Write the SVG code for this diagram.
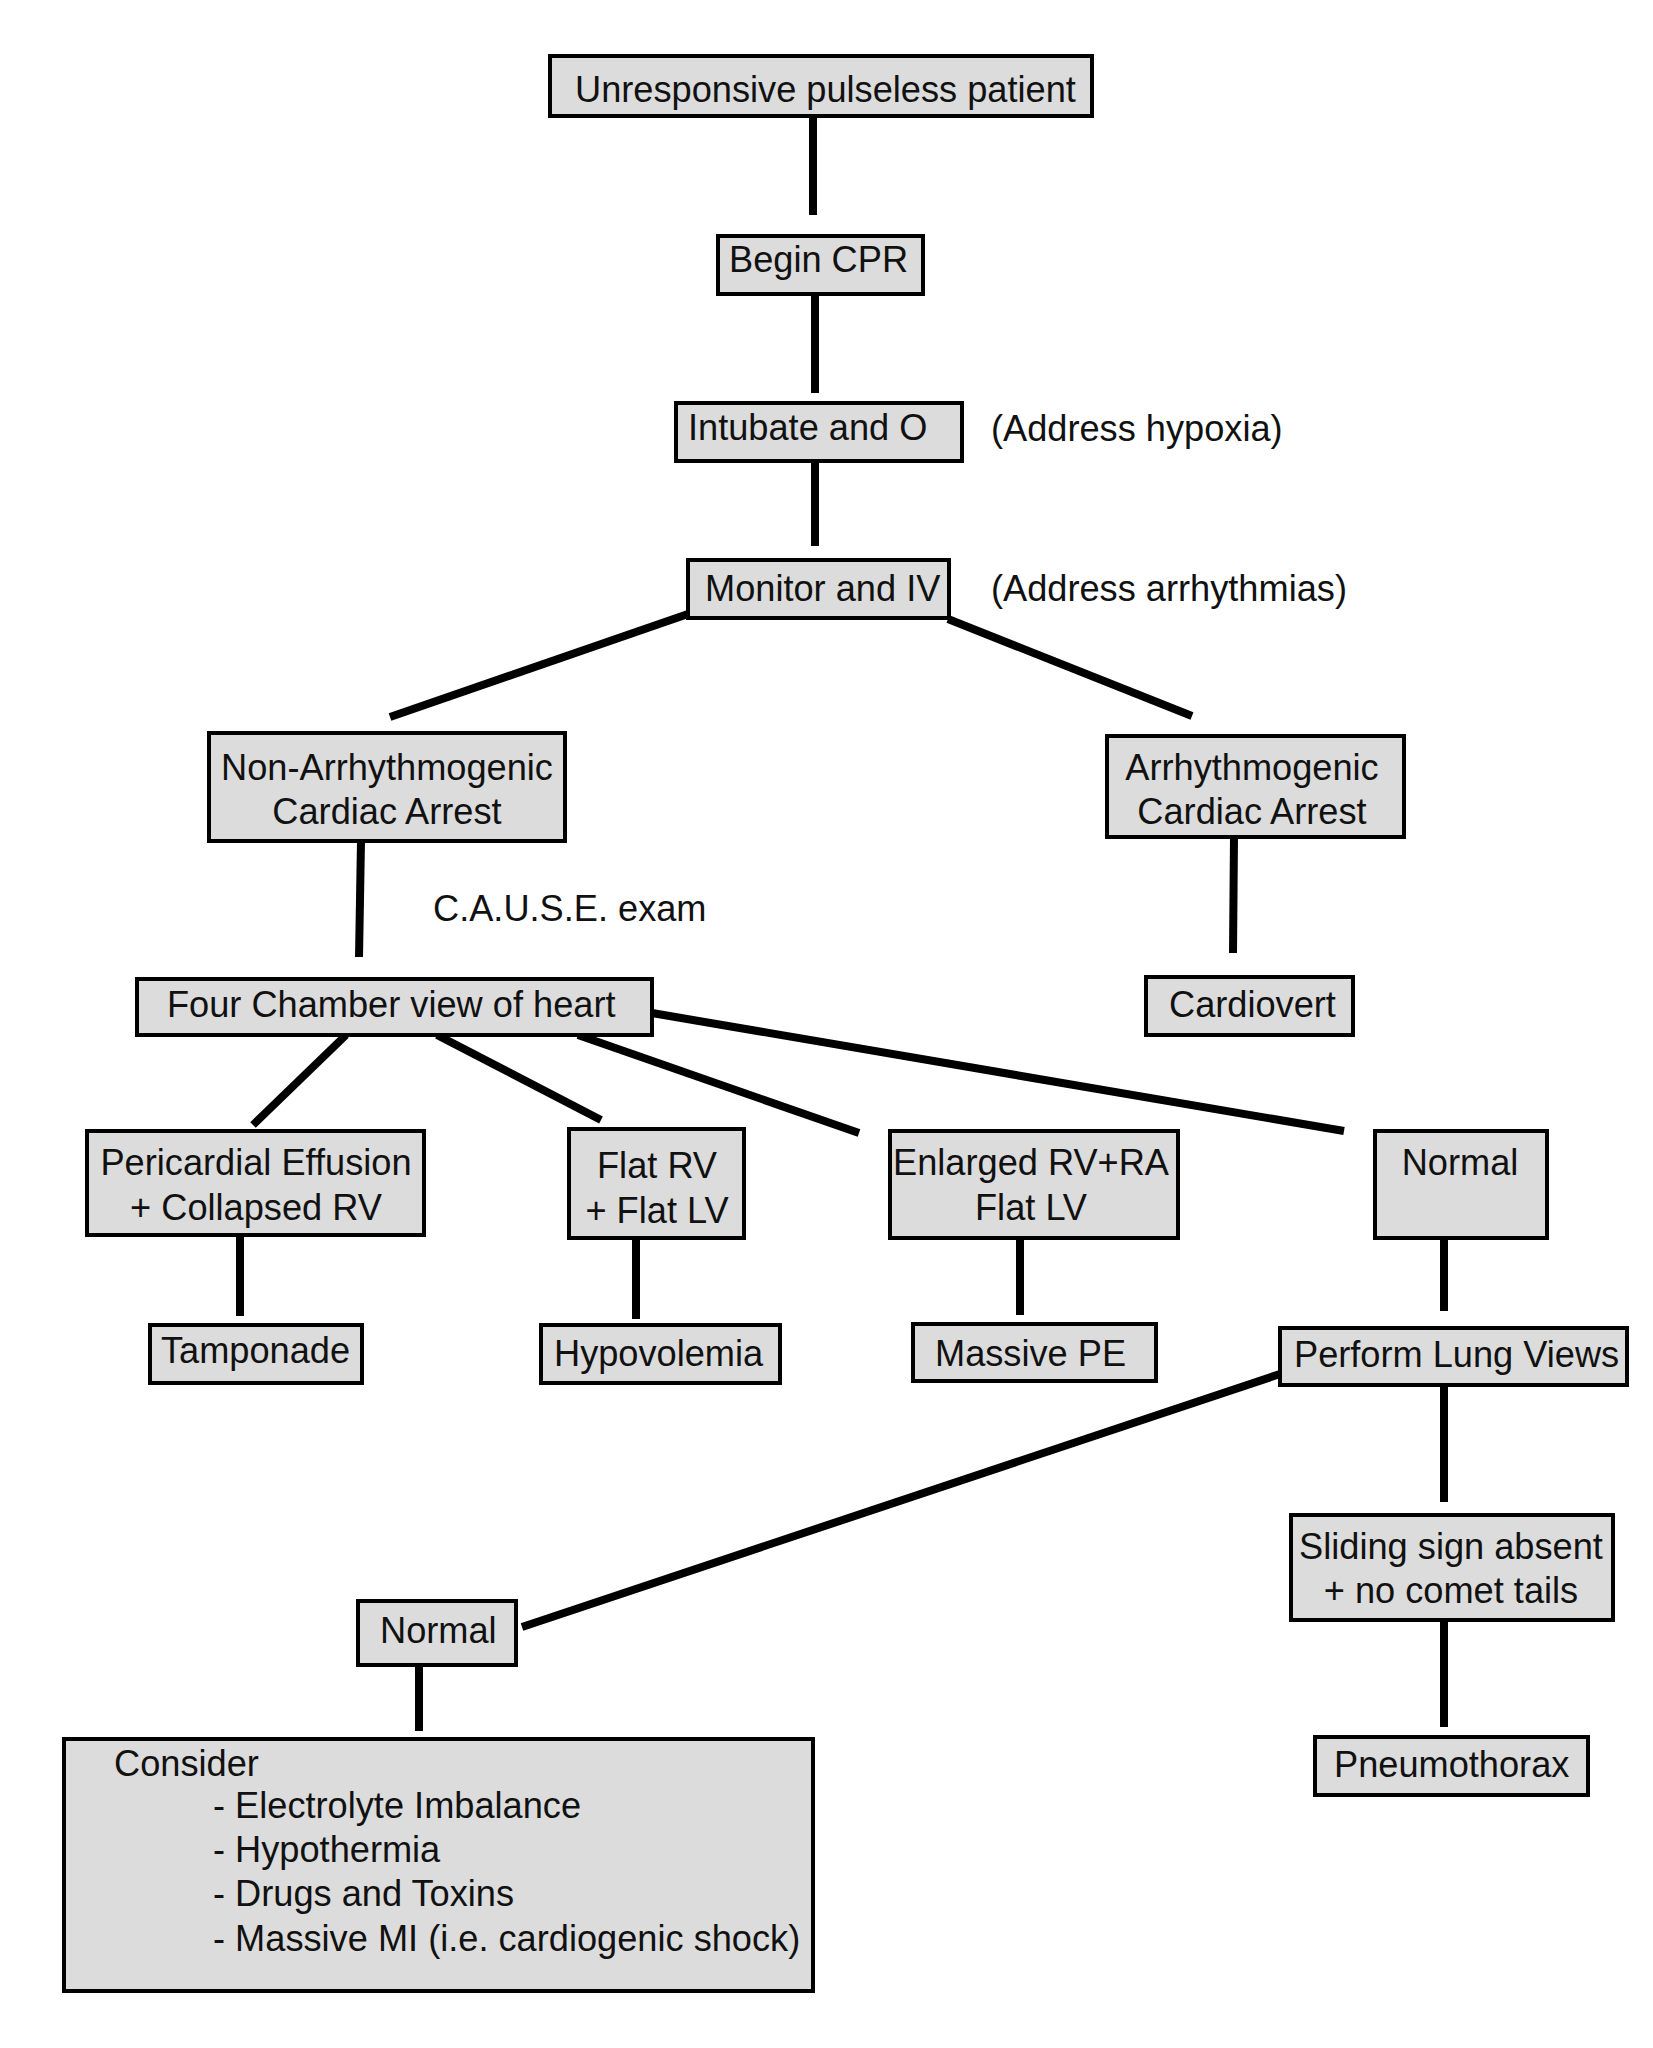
<svg xmlns="http://www.w3.org/2000/svg" width="1653" height="2048" viewBox="0 0 1653 2048">
<style>
.box{fill:#dcdcdc;stroke:#000;stroke-width:4}
.t{font-family:"Liberation Sans",Arial,sans-serif;font-size:36.2px;fill:#111}
.m{text-anchor:middle}
.c line{stroke:#000;stroke-width:8}
</style>
<rect width="1653" height="2048" fill="#fff"/>
<g class="c" id="connectors">
<line x1="813" y1="116" x2="813" y2="215"/>
<line x1="815" y1="294" x2="815" y2="393"/>
<line x1="815" y1="461" x2="815" y2="546"/>
<line x1="688" y1="614" x2="390" y2="717"/>
<line x1="948" y1="619" x2="1192" y2="716"/>
<line x1="361" y1="841" x2="359" y2="957"/>
<line x1="1234" y1="837" x2="1233" y2="953"/>
<line x1="346" y1="1035" x2="253" y2="1125"/>
<line x1="437" y1="1035" x2="601" y2="1120"/>
<line x1="578" y1="1035" x2="859" y2="1133"/>
<line x1="652" y1="1013" x2="1344" y2="1131"/>
<line x1="240" y1="1235" x2="240" y2="1316"/>
<line x1="636" y1="1238" x2="636" y2="1319"/>
<line x1="1020" y1="1238" x2="1020" y2="1315"/>
<line x1="1444" y1="1238" x2="1444" y2="1311"/>
<line x1="1280" y1="1374" x2="522" y2="1627"/>
<line x1="1444" y1="1385" x2="1444" y2="1502"/>
<line x1="1444" y1="1620" x2="1444" y2="1727"/>
<line x1="419" y1="1665" x2="419" y2="1731"/>
</g>
<g id="n1"><rect class="box" x="550" y="56" width="542" height="60"/><text class="t" x="575" y="102">Unresponsive pulseless patient</text></g>
<g id="n2"><rect class="box" x="718" y="236" width="205" height="58"/><text class="t" x="729" y="272">Begin CPR</text></g>
<g id="n3"><rect class="box" x="676" y="403" width="286" height="58"/><text class="t" x="688" y="440">Intubate and O</text></g>
<g id="l1"><text class="t" x="991" y="441">(Address hypoxia)</text></g>
<g id="n4"><rect class="box" x="688" y="560" width="261" height="58"/><text class="t" x="705" y="601">Monitor and IV</text></g>
<g id="l2"><text class="t" x="991" y="601">(Address arrhythmias)</text></g>
<g id="n5"><rect class="box" x="209" y="733" width="356" height="108"/><text class="t m" x="387" y="780">Non-Arrhythmogenic</text><text class="t m" x="387" y="824">Cardiac Arrest</text></g>
<g id="n6"><rect class="box" x="1107" y="736" width="297" height="101"/><text class="t m" x="1252" y="780">Arrhythmogenic</text><text class="t m" x="1252" y="824">Cardiac Arrest</text></g>
<g id="l3"><text class="t" x="433" y="921">C.A.U.S.E. exam</text></g>
<g id="n7"><rect class="box" x="137" y="979" width="515" height="56"/><text class="t" x="167" y="1017">Four Chamber view of heart</text></g>
<g id="n8"><rect class="box" x="1146" y="977" width="207" height="58"/><text class="t" x="1169" y="1017">Cardiovert</text></g>
<g id="n9"><rect class="box" x="87" y="1131" width="337" height="104"/><text class="t m" x="256" y="1175">Pericardial Effusion</text><text class="t m" x="256" y="1220">+ Collapsed RV</text></g>
<g id="n10"><rect class="box" x="569" y="1129" width="175" height="109"/><text class="t m" x="657" y="1178">Flat RV</text><text class="t m" x="657" y="1223">+ Flat LV</text></g>
<g id="n11"><rect class="box" x="890" y="1131" width="288" height="107"/><text class="t m" x="1031" y="1175">Enlarged RV+RA</text><text class="t m" x="1031" y="1220">Flat LV</text></g>
<g id="n12"><rect class="box" x="1375" y="1131" width="172" height="107"/><text class="t m" x="1460" y="1175">Normal</text></g>
<g id="n13"><rect class="box" x="150" y="1325" width="212" height="58"/><text class="t" x="161" y="1363">Tamponade</text></g>
<g id="n14"><rect class="box" x="541" y="1325" width="239" height="58"/><text class="t" x="554" y="1366">Hypovolemia</text></g>
<g id="n15"><rect class="box" x="913" y="1324" width="243" height="57"/><text class="t" x="935" y="1366">Massive PE</text></g>
<g id="n16"><rect class="box" x="1280" y="1328" width="347" height="57"/><text class="t" x="1294" y="1367">Perform Lung Views</text></g>
<g id="n17"><rect class="box" x="1291" y="1515" width="322" height="105"/><text class="t m" x="1451" y="1559">Sliding sign absent</text><text class="t m" x="1451" y="1603">+ no comet tails</text></g>
<g id="n18"><rect class="box" x="1315" y="1737" width="273" height="58"/><text class="t" x="1334" y="1777">Pneumothorax</text></g>
<g id="n19"><rect class="box" x="358" y="1601" width="158" height="64"/><text class="t" x="380" y="1643">Normal</text></g>
<g id="n20"><rect class="box" x="64" y="1739" width="749" height="252"/>
<text class="t" x="114" y="1776">Consider</text>
<text class="t" x="213" y="1818">- Electrolyte Imbalance</text>
<text class="t" x="213" y="1862">- Hypothermia</text>
<text class="t" x="213" y="1906">- Drugs and Toxins</text>
<text class="t" x="213" y="1951">- Massive MI (i.e. cardiogenic shock)</text></g>
</svg>
